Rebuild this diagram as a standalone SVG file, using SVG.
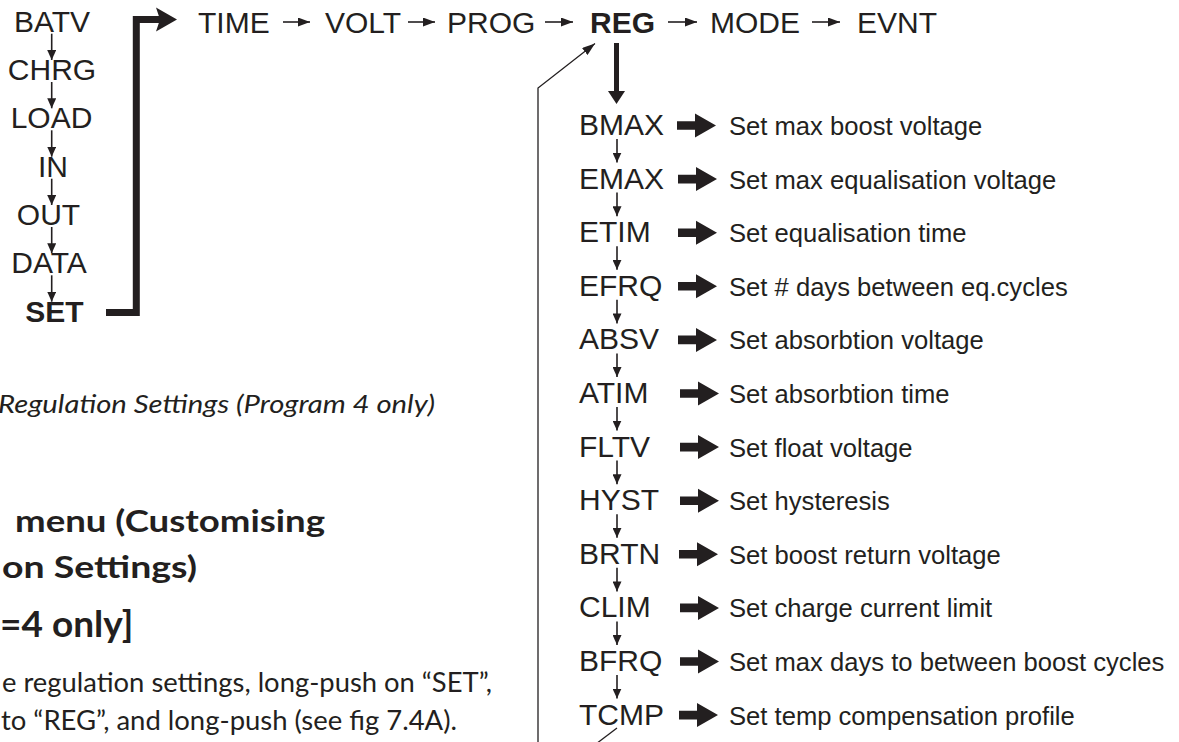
<svg xmlns="http://www.w3.org/2000/svg" width="1179" height="742" viewBox="0 0 1179 742">
<style>
.lbl{font-family:"Liberation Sans",Arial,sans-serif;font-size:30px;fill:#231f20}
.b{font-weight:bold}
.desc{font-family:"Liberation Sans",Arial,sans-serif;font-size:26px;fill:#231f20}
.doc{font-family:Lato,"Noto Sans",sans-serif;fill:#231f20}
.thin{stroke:#231f20;stroke-width:1.6;fill:none}
.conn{stroke:#231f20;fill:none}
</style>
<defs>
<marker id="ahS" viewBox="0 0 10 10" refX="10" refY="5" markerWidth="10" markerHeight="9" markerUnits="userSpaceOnUse" orient="auto" preserveAspectRatio="none"><path d="M0,0 L10,5 L0,10 Z" fill="#231f20"/></marker>
<marker id="ahT" viewBox="0 0 10 10" refX="10" refY="5" markerWidth="12" markerHeight="9" markerUnits="userSpaceOnUse" orient="auto" preserveAspectRatio="none"><path d="M0,0 L10,5 L0,10 Z" fill="#231f20"/></marker>
<marker id="ahD" viewBox="0 0 10 10" refX="10" refY="5" markerWidth="13" markerHeight="9" markerUnits="userSpaceOnUse" orient="auto" preserveAspectRatio="none"><path d="M0,0 L10,5 L0,10 Z" fill="#231f20"/></marker>
<path id="fat" d="M0,-4.3 H18 V-12 L39,0 L18,12 V4.3 H0 Z" fill="#231f20"/>
</defs>

<!-- left menu column -->
<g id="n-batv"><text class="lbl" x="52" y="31.7" text-anchor="middle">BATV</text></g>
<g id="n-chrg"><text class="lbl" x="52" y="80" text-anchor="middle">CHRG</text></g>
<g id="n-load"><text class="lbl" x="51.5" y="128.3" text-anchor="middle">LOAD</text></g>
<g id="n-in"><text class="lbl" x="53" y="176.7" text-anchor="middle">IN</text></g>
<g id="n-out"><text class="lbl" x="48.5" y="225" text-anchor="middle">OUT</text></g>
<g id="n-data"><text class="lbl" x="49" y="273.3" text-anchor="middle">DATA</text></g>
<g id="n-set"><text class="lbl b" x="54.5" y="321.7" text-anchor="middle">SET</text></g>

<!-- top row -->
<g id="n-time"><text class="lbl" x="198" y="33">TIME</text></g>
<g id="n-volt"><text class="lbl" x="325" y="33">VOLT</text></g>
<g id="n-prog"><text class="lbl" x="447" y="33">PROG</text></g>
<g id="n-reg"><text class="lbl b" x="590" y="33">REG</text></g>
<g id="n-mode"><text class="lbl" x="710" y="33">MODE</text></g>
<g id="n-evnt"><text class="lbl" x="857" y="33">EVNT</text></g>

<!-- REG sub-items -->
<g id="n-bmax"><text class="lbl" x="579" y="135">BMAX</text><use href="#fat" x="677" y="125.5"/><text class="desc" x="729" y="135" textLength="253.3" lengthAdjust="spacingAndGlyphs">Set max boost voltage</text></g>
<g id="n-emax"><text class="lbl" x="579" y="188.6">EMAX</text><use href="#fat" x="678" y="179.1"/><text class="desc" x="729" y="188.6" textLength="327.3" lengthAdjust="spacingAndGlyphs">Set max equalisation voltage</text></g>
<g id="n-etim"><text class="lbl" x="579" y="242.2">ETIM</text><use href="#fat" x="678" y="232.7"/><text class="desc" x="729" y="242.2" textLength="237.6" lengthAdjust="spacingAndGlyphs">Set equalisation time</text></g>
<g id="n-efrq"><text class="lbl" x="579" y="295.8">EFRQ</text><use href="#fat" x="678" y="286.3"/><text class="desc" x="729" y="295.8" textLength="338.7" lengthAdjust="spacingAndGlyphs">Set # days between eq.cycles</text></g>
<g id="n-absv"><text class="lbl" x="579" y="349.4">ABSV</text><use href="#fat" x="678" y="339.9"/><text class="desc" x="729" y="349.4" textLength="254.7" lengthAdjust="spacingAndGlyphs">Set absorbtion voltage</text></g>
<g id="n-atim"><text class="lbl" x="579" y="403">ATIM</text><use href="#fat" x="680" y="393.5"/><text class="desc" x="729" y="403" textLength="220.5" lengthAdjust="spacingAndGlyphs">Set absorbtion time</text></g>
<g id="n-fltv"><text class="lbl" x="579" y="456.6">FLTV</text><use href="#fat" x="680" y="447.1"/><text class="desc" x="729" y="456.6" textLength="183.6" lengthAdjust="spacingAndGlyphs">Set float voltage</text></g>
<g id="n-hyst"><text class="lbl" x="579" y="510.2">HYST</text><use href="#fat" x="680" y="500.7"/><text class="desc" x="729" y="510.2" textLength="160.8" lengthAdjust="spacingAndGlyphs">Set hysteresis</text></g>
<g id="n-brtn"><text class="lbl" x="579" y="563.8">BRTN</text><use href="#fat" x="679" y="554.3"/><text class="desc" x="729" y="563.8" textLength="271.8" lengthAdjust="spacingAndGlyphs">Set boost return voltage</text></g>
<g id="n-clim"><text class="lbl" x="579" y="617.4">CLIM</text><use href="#fat" x="680" y="607.9"/><text class="desc" x="729" y="617.4" textLength="263.2" lengthAdjust="spacingAndGlyphs">Set charge current limit</text></g>
<g id="n-bfrq"><text class="lbl" x="579" y="671">BFRQ</text><use href="#fat" x="680" y="661.5"/><text class="desc" x="729" y="671" textLength="435.4" lengthAdjust="spacingAndGlyphs">Set max days to between boost cycles</text></g>
<g id="n-tcmp"><text class="lbl" x="579" y="724.6">TCMP</text><use href="#fat" x="679" y="715.1"/><text class="desc" x="729" y="724.6" textLength="345.8" lengthAdjust="spacingAndGlyphs">Set temp compensation profile</text></g>

<!-- connectors -->
<g id="connectors">
  <g class="thin">
    <line x1="51.7" y1="33.7" x2="51.7" y2="60" marker-end="url(#ahS)"/>
    <line x1="51.7" y1="82" x2="51.7" y2="108.3" marker-end="url(#ahS)"/>
    <line x1="51.7" y1="130.3" x2="51.7" y2="156.7" marker-end="url(#ahS)"/>
    <line x1="51.7" y1="178.7" x2="51.7" y2="205" marker-end="url(#ahS)"/>
    <line x1="51.7" y1="227" x2="51.7" y2="253.3" marker-end="url(#ahS)"/>
    <line x1="51.7" y1="275.3" x2="51.7" y2="301.7" marker-end="url(#ahS)"/>

    <line x1="283" y1="22" x2="310" y2="22" marker-end="url(#ahT)"/>
    <line x1="408" y1="22" x2="435" y2="22" marker-end="url(#ahT)"/>
    <line x1="545" y1="22" x2="573" y2="22" marker-end="url(#ahT)"/>
    <line x1="668" y1="22" x2="697" y2="22" marker-end="url(#ahT)"/>
    <line x1="812" y1="22" x2="840" y2="22" marker-end="url(#ahT)"/>

    <line x1="617" y1="139" x2="617" y2="162.6" marker-end="url(#ahS)"/>
    <line x1="617" y1="192.6" x2="617" y2="216.2" marker-end="url(#ahS)"/>
    <line x1="617" y1="246.2" x2="617" y2="269.8" marker-end="url(#ahS)"/>
    <line x1="617" y1="299.8" x2="617" y2="323.4" marker-end="url(#ahS)"/>
    <line x1="617" y1="353.4" x2="617" y2="377" marker-end="url(#ahS)"/>
    <line x1="617" y1="407" x2="617" y2="430.6" marker-end="url(#ahS)"/>
    <line x1="617" y1="460.6" x2="617" y2="484.2" marker-end="url(#ahS)"/>
    <line x1="617" y1="514.2" x2="617" y2="537.8" marker-end="url(#ahS)"/>
    <line x1="617" y1="567.8" x2="617" y2="591.4" marker-end="url(#ahS)"/>
    <line x1="617" y1="621.4" x2="617" y2="645" marker-end="url(#ahS)"/>
    <line x1="617" y1="675" x2="617" y2="698.6" marker-end="url(#ahS)"/>

    <polyline points="538,760 538,88 595,43.5" stroke-width="1.3" marker-end="url(#ahD)"/>
    <line x1="617" y1="728" x2="592" y2="747" stroke-width="1.3"/>
  </g>
  <polyline class="conn" points="106,312.5 136.3,312.5 136.3,19.5 160,19.5" stroke-width="7" stroke-linejoin="miter"/>
  <path d="M156,7.5 L177,19.5 L156,31.5 L160,19.5 Z" fill="#231f20"/>
  <line class="conn" x1="616.5" y1="43" x2="616.5" y2="93" stroke-width="5"/>
  <path d="M608,91 L625,91 L616.5,104 Z" fill="#231f20"/>
</g>

<!-- document text -->
<text class="doc" x="-2" y="413" font-size="25" font-style="italic" textLength="437" lengthAdjust="spacingAndGlyphs">Regulation Settings (Program 4 only)</text>
<text class="doc" x="15" y="532" font-size="30" font-weight="bold" textLength="310" lengthAdjust="spacingAndGlyphs">menu (Customising</text>
<text class="doc" x="2" y="578" font-size="30" font-weight="bold" textLength="195" lengthAdjust="spacingAndGlyphs">on Settings)</text>
<text class="doc" x="0" y="637" font-size="37" font-weight="bold">=4 only]</text>
<text class="doc" x="2" y="692" font-size="26" textLength="490" lengthAdjust="spacingAndGlyphs">e regulation settings, long-push on “SET”,</text>
<text class="doc" x="1" y="730" font-size="26" textLength="456" lengthAdjust="spacingAndGlyphs">to “REG”, and long-push (see fig 7.4A).</text>
</svg>
